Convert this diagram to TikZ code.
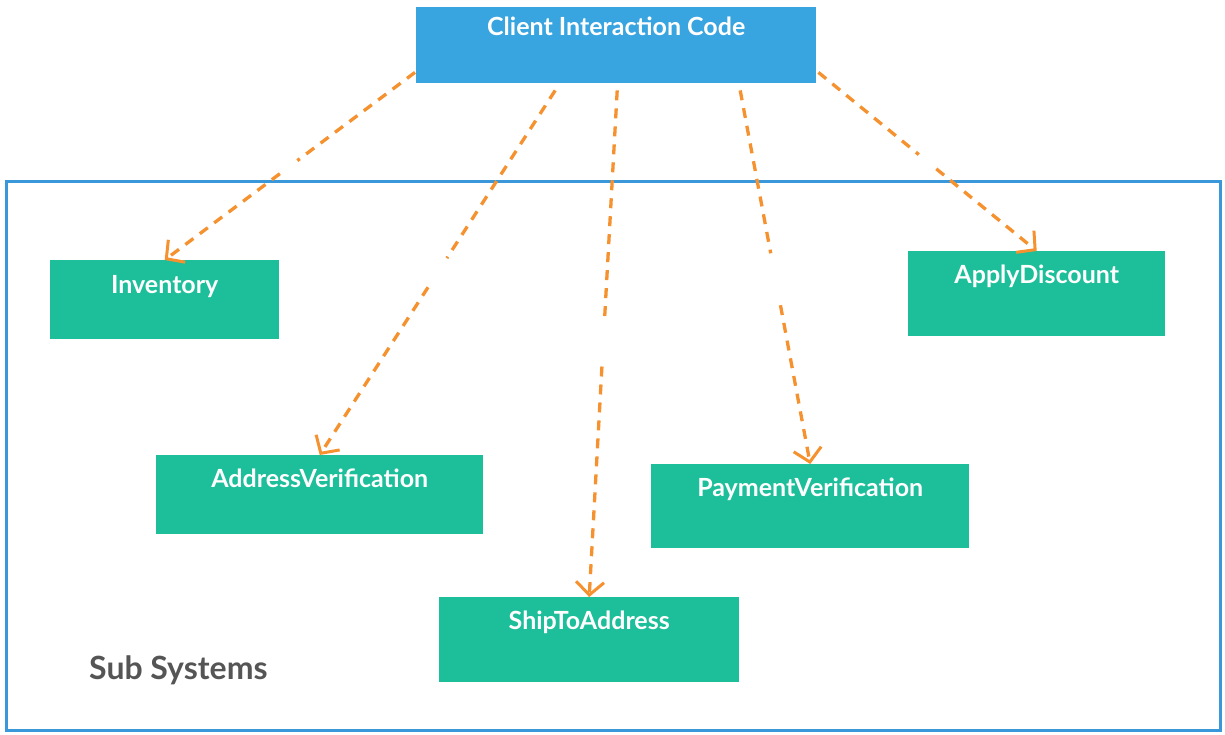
\documentclass[tikz,border=0pt]{standalone}
\usepackage{fontspec}
\setmainfont{Lato}[UprightFont=* Bold]
\usetikzlibrary{arrows.meta,calc}
\definecolor{cblue}{HTML}{38A4E0}
\definecolor{fblue}{HTML}{3A98DA}
\definecolor{cgreen}{HTML}{1DBF9B}
\definecolor{corange}{HTML}{F5922F}
\definecolor{cgray}{HTML}{555555}
\tikzset{
  box/.style={rectangle, inner sep=0pt, text=white, font=\fontsize{25}{26}\selectfont},
  greenbox/.style={box, fill=cgreen},
  conn/.style={draw=corange, line width=3.3pt, dash pattern=on 10pt off 8pt},
  tip/.style={conn, -{Straight Barb[length=13pt,width=28pt,line width=3pt]}},
}
\newcommand{\gapline}[4]{%
  \draw[conn] (#1) -- ($(#1)!#3!(#2)$);
  \draw[tip] ($(#1)!#4!(#2)$) -- (#2);}
\begin{document}
\begin{tikzpicture}[x=1pt,y=-1pt]
\useasboundingbox (0,0) rectangle (1225,734);
% frame
\node[draw=fblue, line width=3pt, rectangle, inner sep=0pt, minimum width=1214pt, minimum height=549pt, anchor=north west] (frame) at (5,180) {};
\node[anchor=base west, text=cgray, font=\fontsize{32}{34}\selectfont, inner sep=0pt] (sub) at (89,679) {Sub Systems};
% client
\node[box, fill=cblue, minimum width=400pt, text height=28pt, text depth=48pt, anchor=north west] (client) at (416,7) {Client Interaction Code};
% subsystems
\node[greenbox, minimum width=229pt, text height=33pt, text depth=46pt, anchor=north west] (inv) at (50,260) {Inventory};
\node[greenbox, minimum width=257pt, text height=32pt, text depth=53pt, anchor=north west] (disc) at (908,251) {ApplyDiscount};
\node[greenbox, minimum width=327pt, text height=32pt, text depth=47pt, anchor=north west] (addr) at (156,455) {AddressVerification};
\node[greenbox, minimum width=318pt, text height=32pt, text depth=52pt, anchor=north west] (pay) at (651,464) {PaymentVerification};
\node[greenbox, minimum width=300pt, text height=32pt, text depth=53pt, anchor=north west] (ship) at (439,597) {ShipToAddress};
% connector starts
\coordinate (s1) at ($(client.south west)+(-1,-11)$);
\coordinate (s2) at ($(client.south)+(-61,7)$);
\coordinate (s3) at ($(client.south)+(1,7)$);
\coordinate (s4) at ($(client.south)+(124,7)$);
\coordinate (s5) at ($(client.south east)+(2,-11)$);
\gapline{s1}{inv.north}{0.47}{0.54}
\gapline{s2}{addr.north}{0.46}{0.54}
\gapline{s3}{ship.north}{0.45}{0.545}
\gapline{s4}{pay.north}{0.436}{0.575}
\gapline{s5}{disc.north}{0.46}{0.54}
\end{tikzpicture}
\end{document}
